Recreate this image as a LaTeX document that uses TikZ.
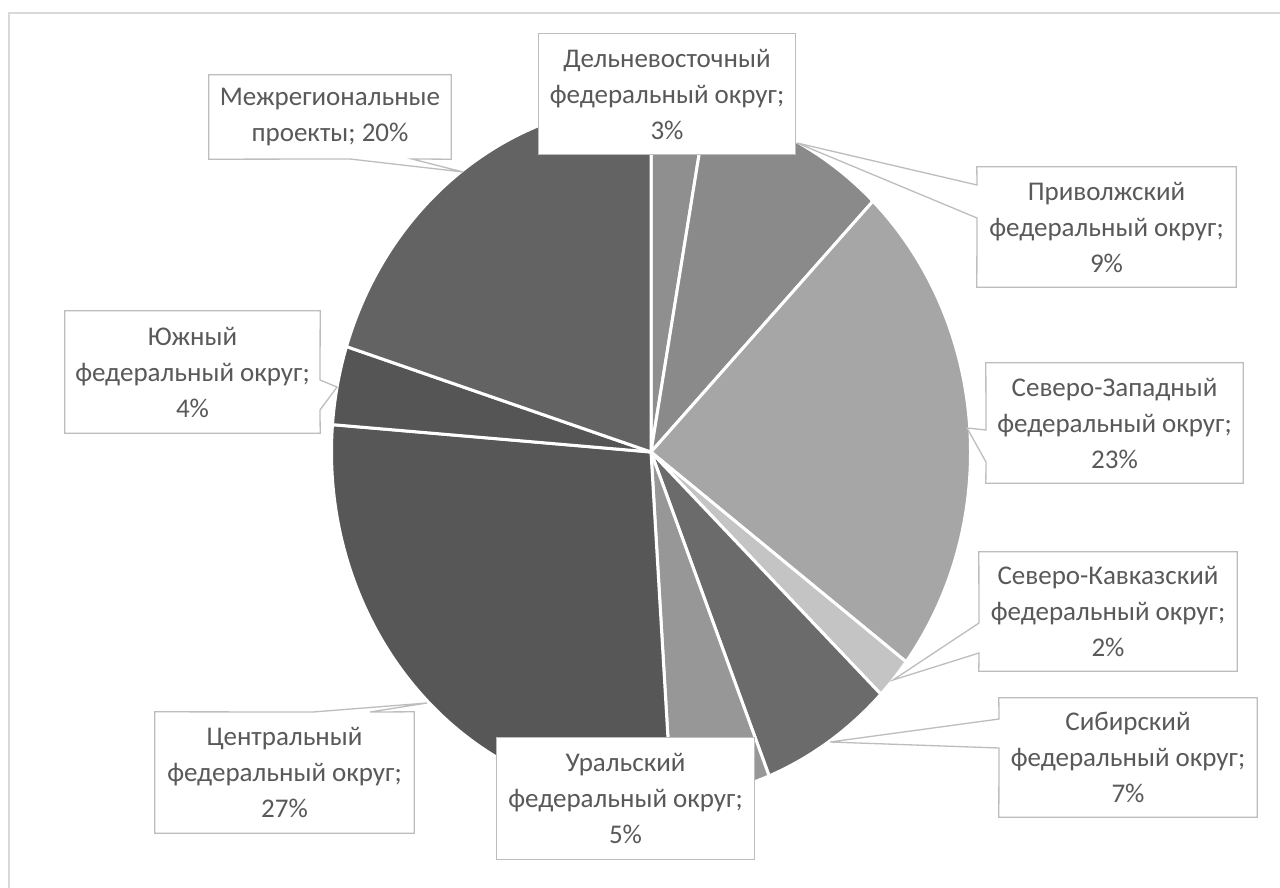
\documentclass[tikz,border=0pt]{standalone}
\usepackage{fontspec}
\setmainfont{Carlito}
\pgfdeclarelayer{pielayer}
\pgfdeclarelayer{boxlayer}
\pgfsetlayers{pielayer,boxlayer,main}
\definecolor{framec}{HTML}{D9D9D9}
\definecolor{boxc}{HTML}{BDBDBD}
\definecolor{textc}{HTML}{595959}
\definecolor{cDal}{HTML}{8F8F8F}
\definecolor{cPriv}{HTML}{8A8A8A}
\definecolor{cSZ}{HTML}{A6A6A6}
\definecolor{cSK}{HTML}{C4C4C4}
\definecolor{cSib}{HTML}{6B6B6B}
\definecolor{cUral}{HTML}{979797}
\definecolor{cCen}{HTML}{575757}
\definecolor{cYuzh}{HTML}{555555}
\definecolor{cMezh}{HTML}{636363}
\begin{document}
\begin{tikzpicture}[x=1pt,y=-1pt,
  lbl/.style={font=\fontsize{27}{36}\selectfont, text=textc, align=center, inner sep=0pt},
  callout/.style={fill=white, draw=boxc, line width=1.3pt, line join=miter},
  slice/.style={draw=white, line width=3pt, line join=round}]
\useasboundingbox (0,0) rectangle (1280,888);
\begin{pgfonlayer}{pielayer}
\fill[white] (0,0) rectangle (1280,888);
\begin{scope}[shift={(651,452)}, yscale=1.0912]
\foreach \a/\b/\c in {0/10/cDal, 10/44/cPriv, 44/127/cSZ, 127/134/cSK, 134/158.3/cSib, 158.3/176.3/cUral, 176.3/274.5/cCen, 274.5/287.6/cYuzh, 287.6/360/cMezh}
  \filldraw[slice, fill=\c] (0,0) -- (\a-90:319.5) arc[start angle=\a-90, end angle=\b-90, radius=319.5] -- cycle;
\end{scope}
\end{pgfonlayer}
\draw[framec, line width=2pt] (1280,13) -- (9,13) -- (9,888);

% label nodes
\node[lbl, minimum width=242, minimum height=84] (m) at (330,117) {Межрегиональные\\проекты; 20\%};
\node[lbl, minimum width=256, minimum height=120] (d) at (667,94) {Дельневосточный\\федеральный округ;\\3\%};
\node[lbl, minimum width=259, minimum height=120] (p) at (1106.5,227) {Приволжский\\федеральный округ;\\9\%};
\node[lbl, minimum width=257, minimum height=120] (s) at (1114.5,423) {Северо-Западный\\федеральный округ;\\23\%};
\node[lbl, minimum width=258, minimum height=119] (k) at (1108,611.5) {Северо-Кавказский\\федеральный округ;\\2\%};
\node[lbl, minimum width=258, minimum height=119] (c) at (1128,757.5) {Сибирский\\федеральный округ;\\7\%};
\node[lbl, minimum width=257, minimum height=121] (u) at (625.5,798.5) {Уральский\\федеральный округ;\\5\%};
\node[lbl, minimum width=259, minimum height=121] (z) at (284.5,772.5) {Центральный\\федеральный округ;\\27\%};
\node[lbl, minimum width=255, minimum height=122] (y) at (192.5,372) {Южный\\федеральный округ;\\4\%};

% leader tips
\coordinate (mt) at (463,172);
\coordinate (pt) at (797,143);
\coordinate (st) at (967,428);
\coordinate (kt) at (893,680);
\coordinate (ct) at (830,742);
\coordinate (zt) at (427,703);
\coordinate (yt) at (337,387);

\begin{pgfonlayer}{boxlayer}
\draw[callout] (m.north west) -- (m.north east) -- (m.south east) -- (412,159) -- (mt) -- (350,159) -- (m.south west) -- cycle;
\draw[callout] (d.north west) rectangle (d.south east);
\draw[callout] (p.north west) -- (p.north east) -- (p.south east) -- (p.south west) -- (977,218) -- (pt) -- (977,185) -- cycle;
\draw[callout] (s.north west) -- (s.north east) -- (s.south east) -- (s.south west) -- (986,462) -- (st) -- (986,430) -- cycle;
\draw[callout] (k.north west) -- (k.north east) -- (k.south east) -- (k.south west) -- (979,653) -- (kt) -- (979,623) -- cycle;
\draw[callout] (c.north west) -- (c.north east) -- (c.south east) -- (c.south west) -- (999,748) -- (ct) -- (999,719) -- cycle;
\draw[callout] (u.north west) rectangle (u.south east);
\draw[callout] (z.north west) -- (313,712) -- (zt) -- (370,712) -- (z.north east) -- (z.south east) -- (z.south west) -- cycle;
\draw[callout] (y.north west) -- (y.north east) -- (320,380) -- (yt) -- (320,410) -- (y.south east) -- (y.south west) -- cycle;
\end{pgfonlayer}
\end{tikzpicture}
\end{document}
